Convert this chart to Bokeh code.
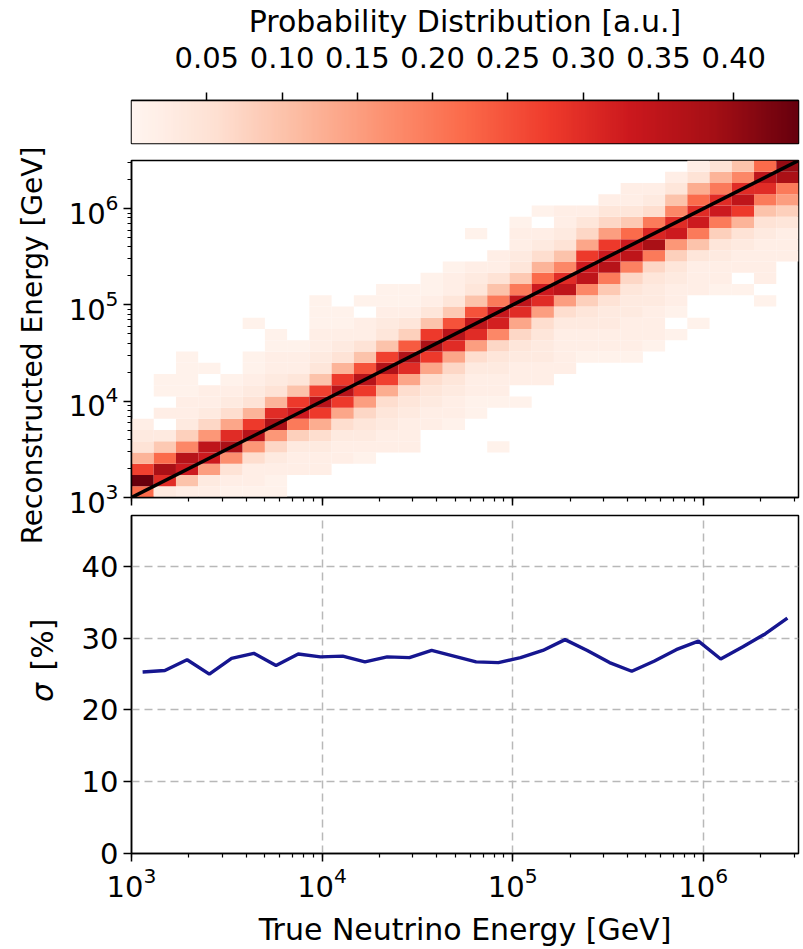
import numpy as np
from bokeh.plotting import figure
from bokeh.layouts import column, row
from bokeh.models import Range1d, LinearColorMapper, ColumnDataSource, FixedTicker, NumeralTickFormatter
from bokeh.core.properties import value
from bokeh.transform import linear_cmap
from bokeh.palettes import Reds9
from bokeh.embed import file_html
from bokeh.resources import INLINE

# ---------------- data ----------------
E_MIN_LOG = 3.0
E_MAX_LOG = 6.5
N_BINS = 30
PROB_MAX = 0.443
cb_ticks = [0.05, 0.10, 0.15, 0.20, 0.25, 0.30, 0.35, 0.40]
sigma_ticks = [0, 10, 20, 30, 40]

# per true-energy column: (first reconstructed-energy row, probabilities upward)
prob_columns = [
    (0, [.22, .44, .27, .12, .05, .03, .02]),
    (0, [.03, .30, .38, .22, .09, .03, 0, .02, 0, .01, .01]),
    (0, [.02, .10, .33, .36, .18, .08, .03, .02, .02, .01, .01, .01, .01]),
    (0, [.02, .03, .15, .33, .35, .16, .07, .03, .02, .02, 0, .01]),
    (0, [.01, .02, .05, .17, .38, .30, .14, .06, .03, .02, .01]),
    (0, [.01, .02, .02, .06, .16, .36, .28, .12, .05, .03, .02, .01, .01, 0, 0, .01]),
    (0, [.01, .01, .02, .03, .07, .16, .38, .30, .12, .05, .03, .02, .02, .01, .01]),
    (2, [.02, .02, .03, .08, .20, .33, .28, .10, .04, .02, .02, .01]),
    (2, [.02, .02, .03, .06, .13, .28, .36, .27, .10, .04, .03, .02, .02, .01, .01, .01]),
    (3, [.02, .02, .03, .06, .14, .28, .36, .28, .12, .05, .03, .02, .01, .01]),
    (3, [.01, .02, .03, .04, .07, .15, .28, .36, .25, .10, .05, .02, .02, 0, .01]),
    (4, [.02, .02, .03, .04, .06, .13, .27, .37, .27, .10, .04, .03, .02, .01, .01]),
    (4, [.02, .02, .02, .03, .04, .06, .14, .30, .37, .24, .08, .04, .02, .01, .01]),
    (6, [.02, .02, .03, .04, .06, .14, .28, .38, .28, .10, .04, .02, .01, .01]),
    (6, [.01, .02, .02, .03, .04, .07, .14, .30, .36, .25, .09, .04, .02, .02, .01]),
    (7, [.01, .01, .02, .02, .03, .06, .15, .30, .35, .25, .10, .04, .03, .02, 0, 0, .01]),
    (4, [.01, 0, 0, 0, .01, .02, .02, .03, .04, .07, .18, .32, .34, .20, .10, .05, .02, .02]),
    (8, [.01, 0, .02, .02, .03, .04, .07, .14, .30, .35, .20, .09, .04, .03, .02, .02, .01]),
    (10, [.02, .02, .03, .03, .04, .06, .15, .30, .33, .22, .12, .06, .03, .02, 0, .01]),
    (11, [.02, .02, .02, .02, .03, .06, .15, .35, .30, .18, .10, .05, .03, .02, .02]),
    (12, [.01, .02, .02, .03, .04, .08, .18, .35, .33, .28, .14, .07, .04, .02]),
    (12, [.01, .02, .02, .03, .03, .05, .09, .20, .36, .33, .28, .15, .07, .04, .02]),
    (12, [.01, .02, .02, .02, .03, .03, .04, .07, .19, .35, .33, .22, .09, .04, .02, .02]),
    (13, [.01, .02, .02, .02, .03, .03, .04, .07, .20, .38, .31, .20, .06, .03, .02]),
    (14, [.01, 0, .01, .02, .02, .03, .04, .08, .16, .33, .30, .18, .10, .04, .02]),
    (15, [.01, 0, 0, .02, .02, .02, .04, .10, .20, .33, .30, .22, .13, .05, .02]),
    (18, [.01, .02, .02, .03, .04, .08, .20, .33, .30, .20, .12, .05]),
    (18, [.01, 0, .02, .02, .03, .05, .12, .28, .35, .30, .18, .10]),
    (17, [.01, 0, .02, .02, .02, .02, .03, .05, .10, .20, .30, .35, .22]),
    (20, [0, .02, .02, .02, .04, .08, .15, .20, .38, .40]),
]

sigma_percent = [25.3, 25.5, 27.0, 25.0, 27.2, 27.9, 26.2, 27.8, 27.4, 27.5,
                 26.7, 27.4, 27.3, 28.3, 27.5, 26.7, 26.6, 27.3, 28.3, 29.8,
                 28.3, 26.6, 25.4, 26.8, 28.4, 29.6, 27.1, 28.8, 30.6, 32.8]

heat_ylabel = "Reconstructed Energy [GeV]"
sigma_ylabel_symbol = "σ"
sigma_ylabel_unit = "[%]"
xlabel = "True Neutrino Energy [GeV]"
cb_label = "Probability Distribution [a.u.]"

# ---------------- helpers ----------------
FONT = "DejaVu Sans"
TICK_FS = "29px"
LABEL_FS = "30px"
H_TOTAL = 949
W_TOTAL = 803
L = 64  # width of the left label strip
OVERLAP = 14  # sigma panel slides under the heatmap's bottom border

edges = np.logspace(E_MIN_LOG, E_MAX_LOG, N_BINS + 1)
centers = np.sqrt(edges[:-1] * edges[1:])


def interp_palette(colors, n=256):
    rgb = np.array([[int(c[i:i + 2], 16) for i in (1, 3, 5)] for c in colors], float)
    pos = np.linspace(0, 1, len(colors))
    t = np.linspace(0, 1, n)
    out = []
    for tt in t:
        r = np.interp(tt, pos, rgb[:, 0]); g = np.interp(tt, pos, rgb[:, 1]); b = np.interp(tt, pos, rgb[:, 2])
        out.append("#%02x%02x%02x" % (int(round(r)), int(round(g)), int(round(b))))
    return out


palette = interp_palette(list(reversed(Reds9)))


def style_axes(p):
    for ax in p.axis:
        ax.major_label_text_font = FONT
        ax.major_label_text_font_size = TICK_FS
        ax.major_label_text_color = "black"
        ax.axis_label_text_font = FONT
        ax.axis_label_text_font_size = LABEL_FS
        ax.axis_label_text_font_style = "normal"
        ax.axis_label_text_color = "black"
        ax.axis_line_color = "black"
        ax.axis_line_width = 1.5
        ax.major_tick_line_color = "black"
        ax.major_tick_line_width = 1.5
        ax.minor_tick_line_color = "black"
        ax.minor_tick_line_width = 1.2
        ax.major_tick_out = 8
        ax.major_tick_in = 0
        ax.minor_tick_out = 4
        ax.minor_tick_in = 0
    p.outline_line_color = "black"
    p.outline_line_width = 1.5
    p.outline_line_alpha = 1.0


W = W_TOTAL - L

# ---------------- left label strip ----------------
p_lab = figure(width=L, height=H_TOTAL, x_range=Range1d(0, L), y_range=Range1d(0, H_TOTAL),
               output_backend="svg", toolbar_location=None, x_axis_location=None,
               y_axis_location=None, min_border=0)
p_lab.outline_line_color = None
p_lab.xgrid.visible = False
p_lab.ygrid.visible = False
p_lab.text(x=[32], y=[H_TOTAL - 345], text=[heat_ylabel], angle=np.pi / 2,
           text_align="center", text_baseline="middle", text_font=value(FONT),
           text_font_size="28px", text_color="black")
p_lab.text(x=[42], y=[H_TOTAL - 692], text=[sigma_ylabel_symbol], angle=np.pi / 2,
           text_align="center", text_baseline="middle", text_font=value(FONT),
           text_font_style="italic", text_font_size=LABEL_FS, text_color="black")
p_lab.text(x=[42], y=[H_TOTAL - 644], text=[sigma_ylabel_unit], angle=np.pi / 2,
           text_align="center", text_baseline="middle", text_font=value(FONT),
           text_font_size=LABEL_FS, text_color="black")

# ---------------- colorbar ----------------
p_cb = figure(width=W, height=150, x_range=Range1d(0, PROB_MAX), y_range=Range1d(0, 1),
              output_backend="svg", toolbar_location=None, x_axis_location="above",
              y_axis_location=None, min_border_left=110 - L, min_border_right=5,
              min_border_top=100, min_border_bottom=7)
mapper = LinearColorMapper(palette=palette, low=0, high=PROB_MAX)
grad = np.linspace(0, PROB_MAX, 600).reshape(1, -1)
p_cb.image(image=[grad], x=0, y=0, dw=PROB_MAX, dh=1, color_mapper=mapper)
p_cb.xaxis.ticker = FixedTicker(ticks=cb_ticks)
p_cb.xaxis.formatter = NumeralTickFormatter(format="0.00")
p_cb.xaxis.axis_label = cb_label
p_cb.xgrid.visible = False
p_cb.ygrid.visible = False
style_axes(p_cb)
p_cb.xaxis.major_label_standoff = 25
p_cb.xaxis.axis_label_standoff = 5
p_cb.xaxis.minor_tick_line_color = None

# ---------------- heatmap ----------------
lefts, rights, bottoms, tops, vals = [], [], [], [], []
for ci, (start, values) in enumerate(prob_columns):
    for k, v in enumerate(values):
        if v <= 0:
            continue
        ri = start + k
        lefts.append(edges[ci]); rights.append(edges[ci + 1])
        bottoms.append(edges[ri]); tops.append(edges[ri + 1])
        vals.append(v)
src = ColumnDataSource(dict(left=lefts, right=rights, bottom=bottoms, top=tops, value=vals))

p_h = figure(width=W, height=364 + OVERLAP, x_axis_type="log", y_axis_type="log",
             x_range=Range1d(edges[0], edges[-1]), y_range=Range1d(edges[0], edges[-1]),
             output_backend="svg", toolbar_location=None,
             min_border_left=131 - L, min_border_right=1, min_border_top=10,
             min_border_bottom=17 + OVERLAP)
p_h.quad(left="left", right="right", bottom="bottom", top="top", source=src,
         fill_color=linear_cmap("value", palette, 0, PROB_MAX), line_color=None)
p_h.line(x=[edges[0], edges[-1]], y=[edges[0], edges[-1]], line_color="black", line_width=3.5)
p_h.xgrid.visible = False
p_h.ygrid.visible = False
style_axes(p_h)
p_h.xaxis.major_label_text_font_size = "1px"
p_h.xaxis.major_label_text_alpha = 0
p_h.xaxis.major_label_standoff = 0

# ---------------- sigma ----------------
p_s = figure(width=W, height=435, x_axis_type="log",
             x_range=Range1d(edges[0], edges[-1]), y_range=Range1d(0, 47.1),
             output_backend="svg", toolbar_location=None,
             min_border_left=131 - L, min_border_right=1, min_border_top=1, min_border_bottom=96)
p_s.margin = (-OVERLAP, 0, 0, 0)
p_s.border_fill_alpha = 0
p_s.line(x=list(centers), y=sigma_percent, line_color="#161690", line_width=3.4)
p_s.yaxis.ticker = FixedTicker(ticks=sigma_ticks)
p_s.xaxis.axis_label = xlabel
for g in (p_s.xgrid, p_s.ygrid):
    g.grid_line_color = "#b8b8b8"
    g.grid_line_width = 1.5
    g.grid_line_dash = "8 5"
style_axes(p_s)
p_s.yaxis.minor_tick_line_color = None
p_s.xaxis.axis_label_standoff = 12

layout = row(p_lab, column(p_cb, p_h, p_s, spacing=0), spacing=0)
open("out.html", "w").write(file_html(layout, INLINE))
